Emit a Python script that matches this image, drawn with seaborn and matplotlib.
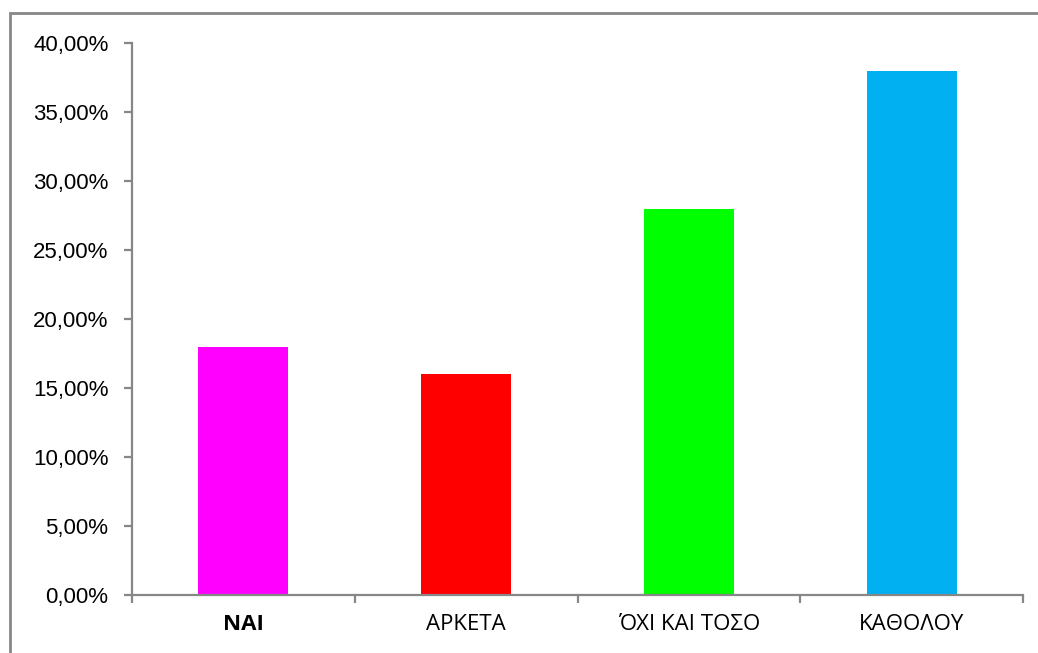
import matplotlib
matplotlib.use("Agg")
import matplotlib.pyplot as plt
import matplotlib.patches as mpatches
from matplotlib.ticker import FuncFormatter, FixedLocator
import seaborn as sns
import pandas as pd

categories = ["ΝΑΙ", "ΑΡΚΕΤΑ", "ΌΧΙ ΚΑΙ ΤΟΣΟ", "ΚΑΘΟΛΟΥ"]
values = [18.0, 16.0, 28.0, 38.0]
colors = ["#FF00FF", "#FF0000", "#00FF00", "#00B0F0"]

df = pd.DataFrame({"category": categories, "value": values})

sns.set_theme(style="white")
plt.rcParams["font.family"] = ["Liberation Sans", "DejaVu Sans"]

fig = plt.figure(figsize=(10.38, 6.53), dpi=100)
ax = fig.add_axes([132 / 1038, 1 - 595 / 653, (1023 - 132) / 1038, (595 - 43) / 653])

sns.barplot(data=df, x="category", y="value", hue="category",
            palette=colors, legend=False, width=0.404, saturation=1,
            linewidth=0, ax=ax)

grey = "#878787"
ax.set_ylim(0, 40)
ax.set_xlim(-0.5, 3.5)
ax.set_yticks([0, 5, 10, 15, 20, 25, 30, 35, 40])
ax.yaxis.set_major_formatter(FuncFormatter(lambda v, p: f"{v:.2f}".replace(".", ",") + "%"))
ax.set_xlabel("")
ax.set_ylabel("")

for side in ["top", "right"]:
    ax.spines[side].set_visible(False)
for side in ["left", "bottom"]:
    ax.spines[side].set_color(grey)
    ax.spines[side].set_linewidth(1.6)

ax.tick_params(axis="y", which="major", direction="out", length=6, width=1.6,
               color=grey, pad=11, labelsize=16, labelcolor="black", left=True)
ax.tick_params(axis="x", which="major", length=0, pad=14, labelsize=16,
               labelcolor="black")
ax.xaxis.set_minor_locator(FixedLocator([-0.5, 0.5, 1.5, 2.5, 3.5]))
ax.tick_params(axis="x", which="minor", direction="out", length=6, width=1.6,
               color=grey, bottom=True)

for lbl in ax.get_yticklabels():
    lbl.set_fontweight("medium")
for lbl in ax.get_xticklabels():
    lbl.set_family(["Open Sans", "DejaVu Sans"])
ax.get_xticklabels()[0].set_fontweight("bold")

# chart-area frame
frame = mpatches.Rectangle((10 / 1038, -0.1), 1.2, 1 - 13 / 653 + 0.1,
                           transform=fig.transFigure, fill=False,
                           edgecolor=grey, linewidth=2, clip_on=False)
fig.patches.append(frame)

fig.savefig("out.png", dpi=100)
